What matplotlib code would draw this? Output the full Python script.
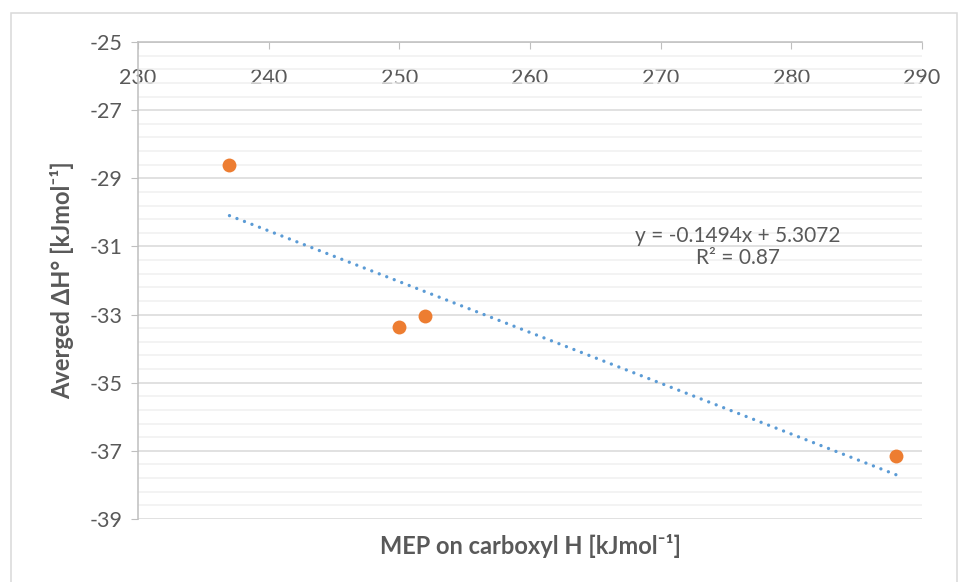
import numpy as np
import matplotlib
matplotlib.use("Agg")
import matplotlib.pyplot as plt
from matplotlib.patches import Rectangle

plt.rcParams['font.family'] = ['Lato', 'DejaVu Sans']
plt.rcParams['axes.unicode_minus'] = False

# data
mep = [237, 250, 252, 288]
dh = [-28.6, -33.37, -33.04, -37.15]
x_ticks = [230, 240, 250, 260, 270, 280, 290]
y_ticks = [-39, -37, -35, -33, -31, -29, -27, -25]
eq_text = "y = -0.1494x + 5.3072\nR² = 0.87"
x_label = "MEP on carboxyl H [kJmol⁻¹]"
y_label = "Averged ΔH° [kJmol⁻¹]"

grey_txt = '#595959'

fig = plt.figure(figsize=(9.58, 5.82), dpi=100)
ax = fig.add_axes([138/958, 1-519/582, (922-138)/958, (519-42)/582])

ax.set_xlim(230, 290)
ax.set_ylim(-39, -25)
ax.set_xticks(x_ticks)
ax.set_yticks(y_ticks)
ax.set_yticks(np.arange(-39, -25, 0.4), minor=True)

ax.grid(axis='y', which='major', color='#d9d9d9', lw=1.1)
ax.grid(axis='y', which='minor', color='#f0f0f0', lw=1.1)
ax.set_axisbelow(True)

for s in ['right', 'bottom']:
    ax.spines[s].set_visible(False)
for s in ['left', 'top']:
    ax.spines[s].set_color('#bfbfbf')
    ax.spines[s].set_linewidth(1.1)

ax.tick_params(axis='y', which='major', direction='out', length=5, color='#bfbfbf',
               labelsize=15.5, labelcolor=grey_txt, pad=6)
ax.tick_params(axis='y', which='minor', length=0)
ax.tick_params(axis='x', top=True, bottom=False, labeltop=True, labelbottom=False,
               direction='in', length=5, color='#bfbfbf', labelsize=15.5,
               labelcolor=grey_txt, pad=-33)

# trendline
k, b = np.polyfit(mep, dh, 1)
xs = np.array([min(mep), max(mep)])
ax.plot(xs, k*xs + b, color='#5b9bd5', lw=2.4, linestyle=(0, (0.01, 2.4)),
        dash_capstyle='round', zorder=3)

ax.scatter(mep, dh, s=100, color='#ed7d31', zorder=4, linewidths=0)

fig.text(738/958, 1-247/582, eq_text, ha='center', va='center', fontsize=15,
         color=grey_txt, linespacing=1.1)

fig.text(531/958, 1-546/582, x_label, ha='center', va='center', fontsize=17,
         fontweight='bold', color=grey_txt)
fig.text(62/958, 1-280/582, y_label, ha='center', va='center', fontsize=17,
         fontweight='bold', color=grey_txt, rotation=90)

fig.patches.append(Rectangle((11/958, -0.05), (957-11)/958, 1-13/582+0.05,
                             transform=fig.transFigure, fill=False,
                             edgecolor='#d9d9d9', lw=1.1))

fig.savefig('out.png', dpi=100)
